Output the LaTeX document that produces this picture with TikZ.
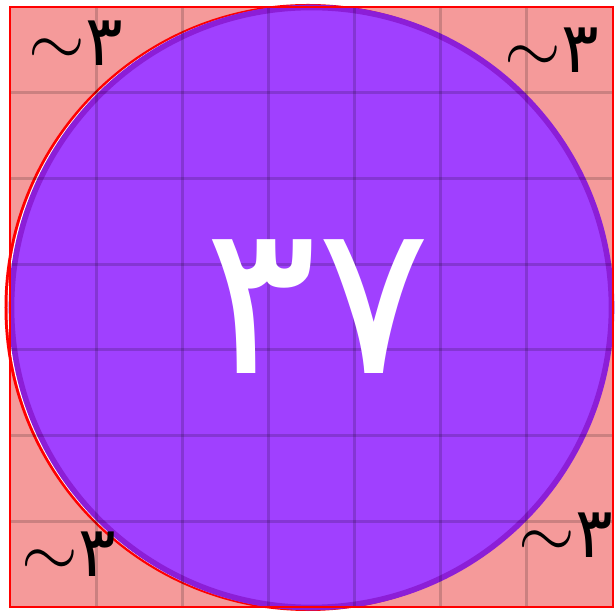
\documentclass[tikz,border=0pt]{standalone}
\usepackage{fontspec}
\newfontfamily\arabicfont[Script=Arabic]{DejaVu Sans}
\usepackage{xcolor}
\definecolor{salmon}{RGB}{245,154,154}
\definecolor{violet}{RGB}{160,64,255}
\definecolor{violetedge}{RGB}{140,30,215}
\usetikzlibrary{positioning}

\begin{document}
\begin{tikzpicture}[
	gridline/.style={draw=black, draw opacity=0.17, line width=0.9pt},
	frame/.style={draw=red, line width=0.8pt},
	corner/.style={font=\arabicfont\fontsize{20}{20}\selectfont, text=black, inner sep=0pt},
	count/.style={font=\arabicfont\fontsize{60}{60}\selectfont, text=white, inner sep=0pt}
	]
\useasboundingbox (0,0) rectangle (6.15,6.15);
% background square
\fill[salmon] (0.10,0.08) rectangle (6.13,6.08);
% circle with red rim on the left
\fill[red] (3.08,3.075) circle (3.035);
\fill[white] (3.095,3.075) circle (3.02);
\draw[fill=violet, draw=violetedge, line width=1.6pt] (3.115,3.075) circle (3.0);
% grid
\foreach \i in {1,...,6} {
	\draw[gridline] ({0.10+\i*0.8614},0.08) -- ({0.10+\i*0.8614},6.08);
	\draw[gridline] (0.10,{0.08+\i*0.857}) -- (6.13,{0.08+\i*0.857});
}
\draw[frame] (0.10,0.08) rectangle (6.13,6.08);

\node[count] (total) at (3.18,3.08) {٣٧};
\node[corner] (tl) at (0.76,5.72) {$\sim$٣};
\node[corner] (tr) at (5.52,5.65) {$\sim$٣};
\node[corner] (bl) at (0.69,0.61) {$\sim$٣};
\node[corner] (br) at (5.66,0.80) {$\sim$٣};
\end{tikzpicture}
\end{document}
